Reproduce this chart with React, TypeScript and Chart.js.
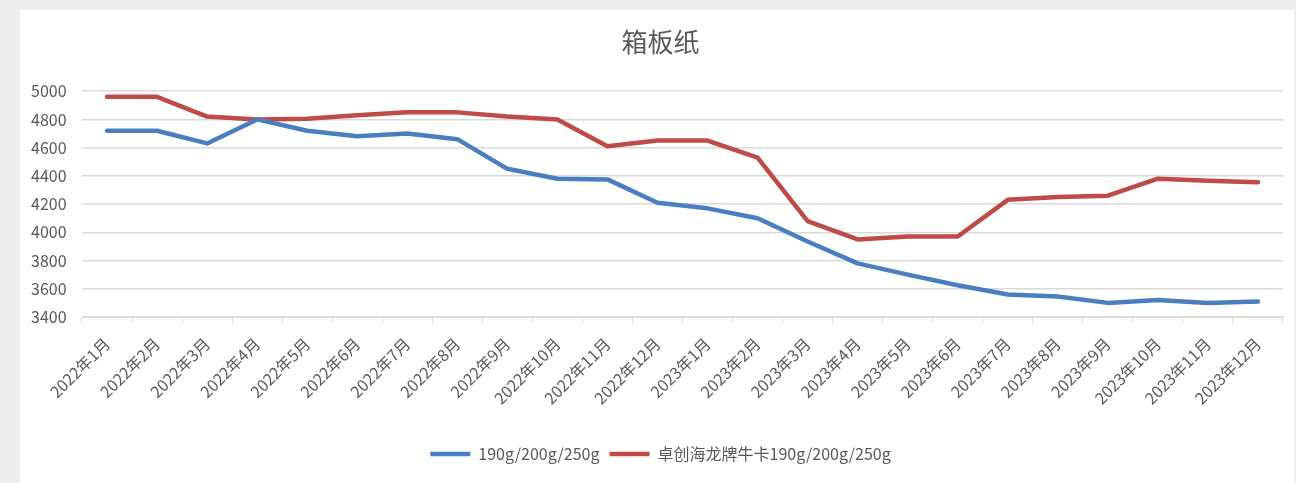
import React, { useEffect, useRef } from "react";
import { Chart, registerables } from "chart.js";

Chart.register(...registerables);

const title = "箱板纸";
const categories = [
  "2022年1月", "2022年2月", "2022年3月", "2022年4月", "2022年5月", "2022年6月",
  "2022年7月", "2022年8月", "2022年9月", "2022年10月", "2022年11月", "2022年12月",
  "2023年1月", "2023年2月", "2023年3月", "2023年4月", "2023年5月", "2023年6月",
  "2023年7月", "2023年8月", "2023年9月", "2023年10月", "2023年11月", "2023年12月",
];
const seriesBlueName = "190g/200g/250g";
const seriesBlue = [
  4720, 4720, 4630, 4800, 4720, 4680, 4700, 4660, 4450, 4380, 4375, 4210,
  4170, 4100, 3935, 3780, 3700, 3625, 3560, 3545, 3500, 3520, 3500, 3510,
];
const seriesRedName = "卓创海龙牌牛卡190g/200g/250g";
const seriesRed = [
  4960, 4960, 4820, 4800, 4805, 4830, 4850, 4850, 4820, 4800, 4610, 4650,
  4650, 4530, 4080, 3950, 3970, 3970, 4230, 4250, 4260, 4380, 4365, 4355,
];
const yMin = 3400;
const yMax = 5000;
const yStep = 200;

const FONT = "'Noto Sans CJK SC', 'Open Sans', sans-serif";
const TEXT = "#595959";
const GRID = "#d9d9d9";

export default function App() {
  const ref = useRef<HTMLCanvasElement | null>(null);

  useEffect(() => {
    if (!ref.current) return;
    const chart = new Chart(ref.current, {
      type: "line",
      data: {
        labels: categories,
        datasets: [
          {
            label: seriesBlueName,
            data: seriesBlue,
            borderColor: "#4A7EC1",
            backgroundColor: "#4A7EC1",
            borderWidth: 4.5,
            pointRadius: 0,
            pointHoverRadius: 0,
            tension: 0,
            borderJoinStyle: "round",
            borderCapStyle: "round",
            pointStyle: "line",
          },
          {
            label: seriesRedName,
            data: seriesRed,
            borderColor: "#BE4B48",
            backgroundColor: "#BE4B48",
            borderWidth: 4.5,
            pointRadius: 0,
            pointHoverRadius: 0,
            tension: 0,
            borderJoinStyle: "round",
            borderCapStyle: "round",
            pointStyle: "line",
          },
        ],
      },
      options: {
        responsive: true,
        maintainAspectRatio: false,
        animation: false,
        layout: { padding: { top: 0, left: 18, right: 11, bottom: 11 } },
        plugins: {
          title: {
            display: true,
            text: title,
            color: TEXT,
            font: { family: "'Noto Sans CJK SC', sans-serif", size: 26, weight: "normal" },
            padding: { top: 17, bottom: 33 },
          },
          legend: {
            display: true,
            position: "bottom",
            labels: {
              usePointStyle: true,
              pointStyleWidth: 40,
              boxHeight: 14,
              padding: 10,
              color: TEXT,
              font: { family: FONT, size: 16 },
            },
          },
          tooltip: { enabled: false },
        },
        scales: {
          x: {
            offset: true,
            grid: {
              display: true,
              drawOnChartArea: false,
              drawTicks: true,
              tickLength: 6,
              color: GRID,
              offset: true,
            },
            border: { display: true, color: GRID },
            ticks: {
              color: TEXT,
              font: { family: FONT, size: 16 },
              minRotation: 45,
              maxRotation: 45,
              autoSkip: false,
              padding: 11,
            },
            afterFit: (axis: any) => {
              axis.height = 119;
            },
          },
          y: {
            min: yMin,
            max: yMax,
            grid: { color: GRID, drawTicks: false, lineWidth: 1.5 },
            border: { display: false },
            ticks: {
              stepSize: yStep,
              color: TEXT,
              font: { family: FONT, size: 16 },
              mirror: true,
              padding: -51,
              callback: (v: any) => String(v),
            },
            afterFit: (axis: any) => {
              axis.width = 44;
            },
          },
        },
      },
    });
    return () => chart.destroy();
  }, []);

  return (
    <div
      style={{
        position: "fixed",
        left: 0,
        top: 0,
        width: 1296,
        height: 483,
        background: "#eeeeee",
        overflow: "hidden",
      }}
    >
      <div
        style={{
          position: "absolute",
          left: 20,
          top: 10,
          width: 1274,
          height: 473,
          background: "#ffffff",
        }}
      >
        <canvas ref={ref} />
      </div>
    </div>
  );
}
